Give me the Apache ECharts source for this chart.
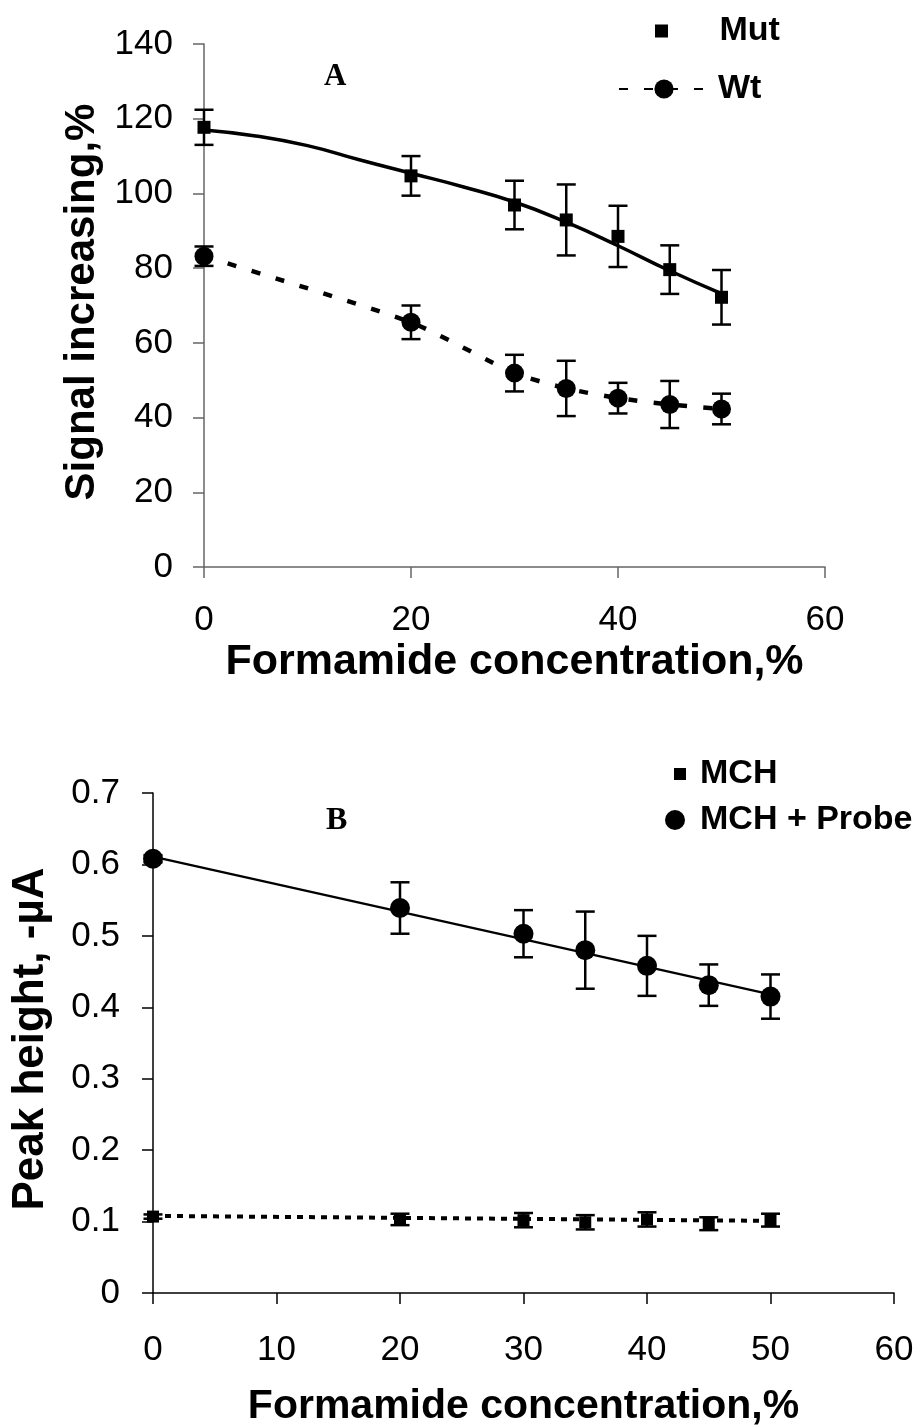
<!DOCTYPE html>
<html>
<head>
<meta charset="utf-8">
<script src="https://cdn.jsdelivr.net/npm/echarts@6/dist/echarts.min.js"></script>
<style>
  html, body { margin: 0; padding: 0; background: #fff; }
  #main { width: 921px; height: 1428px; }
</style>
</head>
<body>
<div id="main"></div>
<script>
// panel A: signal increasing vs formamide
var concA = [0, 20, 30, 35, 40, 45, 50];
var mutVals = [117.7, 104.7, 96.9, 92.9, 88.5, 79.6, 72.2];
var mutErr = [4.7, 5.3, 6.5, 9.5, 8.2, 6.5, 7.3];
var wtVals = [83.2, 65.5, 51.9, 47.8, 45.2, 43.5, 42.3];
var wtErr = [2.6, 4.5, 4.9, 7.4, 4.1, 6.3, 4.1];
// Mut trend curve
var trendX = [0, 5, 10, 15, 20, 25, 30, 35, 40, 45, 50];
var mutTrend = [117.0, 115.4, 112.8, 109.0, 105.4, 101.8, 97.7, 92.3, 86.0, 79.3, 73.2];

// panel B: peak height vs formamide
var concB = [0, 20, 30, 35, 40, 45, 50];
var probeVals = [0.608, 0.539, 0.503, 0.480, 0.458, 0.431, 0.415];
var probeErr = [0.005, 0.036, 0.033, 0.054, 0.042, 0.029, 0.031];
var mchVals = [0.107, 0.103, 0.102, 0.099, 0.103, 0.097, 0.102];
var mchErr = [0.003, 0.008, 0.010, 0.010, 0.010, 0.009, 0.009];
var trendBX = [0, 50];
var probeTrend = [0.611, 0.418];
var mchTrend = [0.108, 0.101];

var ticksA_y = [0, 140, 20];
var ticksA_x = [0, 60, 20];
var ticksB_y = [0, 0.7, 0.1];
var ticksB_x = [0, 60, 10];

var FONT = 'Liberation Sans, Arial, sans-serif';

function pairs(xs, ys) {
    return xs.map(function (x, i) { return [x, ys[i]]; });
}
function bars(xs, ys, es) {
    return xs.map(function (x, i) { return [x, ys[i] - es[i], ys[i] + es[i]]; });
}
function errRender(params, api) {
    var x = api.value(0);
    var p1 = api.coord([x, api.value(1)]);
    var p2 = api.coord([x, api.value(2)]);
    var w = 9.5;
    var st = { stroke: '#000', lineWidth: 2.5 };
    return {
        type: 'group',
        children: [
            { type: 'line', shape: { x1: p1[0], y1: p1[1], x2: p2[0], y2: p2[1] }, style: st },
            { type: 'line', shape: { x1: p1[0] - w, y1: p1[1], x2: p1[0] + w, y2: p1[1] }, style: st },
            { type: 'line', shape: { x1: p2[0] - w, y1: p2[1], x2: p2[0] + w, y2: p2[1] }, style: st }
        ]
    };
}
function valAxis(grid, t, color, extra) {
    var ax = {
        type: 'value',
        gridIndex: grid,
        min: t[0],
        max: t[1],
        interval: t[2],
        splitLine: { show: false },
        axisLine: { show: true, lineStyle: { color: color, width: 1.5 } },
        axisTick: { show: true, inside: false, length: 11, lineStyle: { color: color, width: 1.5 } },
        nameLocation: 'middle'
    };
    for (var k in extra) ax[k] = extra[k];
    return ax;
}
function tickLabel(margin) {
    return { color: '#000', fontSize: 35, fontFamily: FONT, margin: margin };
}
function nameStyle(size, pad) {
    return { color: '#000', fontSize: size, fontWeight: 'bold', fontFamily: FONT, padding: pad || 0 };
}

var dom = document.getElementById('main');
var myChart = echarts.init(dom);
var legendText = { color: '#000', fontSize: 34, fontWeight: 'bold', fontFamily: FONT, lineHeight: 36 };

var option = {
    backgroundColor: '#fff',
    animation: false,
    grid: [
        { left: 204, right: 96, top: 44, bottom: 861 },
        { left: 153, right: 27, top: 793, bottom: 135 }
    ],
    xAxis: [
        valAxis(0, ticksA_x, '#666', { name: 'Formamide concentration,%', nameGap: 74, axisLabel: tickLabel(36), nameTextStyle: nameStyle(43) }),
        valAxis(1, ticksB_x, '#000', { name: 'Formamide concentration,%', nameGap: 93, axisLabel: tickLabel(40), nameTextStyle: nameStyle(41) })
    ],
    yAxis: [
        valAxis(0, ticksA_y, '#666', { name: 'Signal increasing,%', nameGap: 79, axisLabel: tickLabel(31), nameTextStyle: nameStyle(42, [0, 0, 0, 7]) }),
        valAxis(1, ticksB_y, '#000', { name: 'Peak height, -µA', nameGap: 100, axisLabel: tickLabel(33), nameTextStyle: nameStyle(44, [0, 0, 0, 8]) })
    ],
    legend: [
        { data: [{ name: 'Mut', icon: 'path://M0,0L10,0L10,10L0,10Z' }], left: 655, top: 13, padding: 0, itemWidth: 106, itemHeight: 13, selectedMode: false, textStyle: legendText },
        { data: ['Wt'], left: 618, top: 71, padding: 0, itemWidth: 90, itemHeight: 24, selectedMode: false,
          textStyle: { color: '#000', fontSize: 34, fontWeight: 'bold', fontFamily: FONT, lineHeight: 36, padding: [0, 0, 0, 4] } },
        { data: [{ name: 'MCH', icon: 'path://M0,0L10,0L10,10L0,10Z' }], left: 674, top: 756, padding: 0, itemWidth: 30, itemHeight: 12, selectedMode: false, textStyle: legendText },
        { data: [{ name: 'MCH + Probe', icon: 'circle' }], left: 665, top: 802, padding: 0, itemWidth: 40, itemHeight: 20, selectedMode: false, textStyle: legendText }
    ],
    graphic: [
        { type: 'text', left: 324, top: 61, style: { text: 'A', fill: '#000', font: 'bold 31px "Liberation Serif", "Times New Roman", serif' } },
        { type: 'text', left: 326, top: 805, style: { text: 'B', fill: '#000', font: 'bold 32px "Liberation Serif", "Times New Roman", serif' } }
    ],
    series: [
        {
            name: 'Mut trend', type: 'line', xAxisIndex: 0, yAxisIndex: 0,
            data: pairs(trendX, mutTrend), smooth: true, symbol: 'none', silent: true,
            lineStyle: { color: '#000', width: 3.5 }, z: 2
        },
        {
            name: 'Wt', type: 'line', xAxisIndex: 0, yAxisIndex: 0,
            data: pairs(concA, wtVals), smooth: 0.2, symbol: 'circle', symbolSize: 19,
            itemStyle: { color: '#000' },
            lineStyle: { color: '#000', width: 4.5, type: [9, 16] }, z: 4
        },
        {
            type: 'custom', xAxisIndex: 0, yAxisIndex: 0, renderItem: errRender,
            encode: { x: 0, y: [1, 2] }, data: bars(concA, mutVals, mutErr), z: 3, silent: true
        },
        {
            type: 'custom', xAxisIndex: 0, yAxisIndex: 0, renderItem: errRender,
            encode: { x: 0, y: [1, 2] }, data: bars(concA, wtVals, wtErr), z: 3, silent: true
        },
        {
            name: 'Mut', type: 'scatter', xAxisIndex: 0, yAxisIndex: 0,
            data: pairs(concA, mutVals), symbol: 'rect', symbolSize: 13,
            itemStyle: { color: '#000', opacity: 1 }, z: 5
        },
        {
            name: 'MCH + Probe trend', type: 'line', xAxisIndex: 1, yAxisIndex: 1,
            data: pairs(trendBX, probeTrend), symbol: 'none', silent: true,
            lineStyle: { color: '#000', width: 2.2 }, z: 2
        },
        {
            name: 'MCH trend', type: 'line', xAxisIndex: 1, yAxisIndex: 1,
            data: pairs(trendBX, mchTrend), symbol: 'none', silent: true,
            lineStyle: { color: '#000', width: 4, type: [6, 6] }, z: 2
        },
        {
            type: 'custom', xAxisIndex: 1, yAxisIndex: 1, renderItem: errRender,
            encode: { x: 0, y: [1, 2] }, data: bars(concB, probeVals, probeErr), z: 3, silent: true
        },
        {
            type: 'custom', xAxisIndex: 1, yAxisIndex: 1, renderItem: errRender,
            encode: { x: 0, y: [1, 2] }, data: bars(concB, mchVals, mchErr), z: 3, silent: true
        },
        {
            name: 'MCH + Probe', type: 'scatter', xAxisIndex: 1, yAxisIndex: 1,
            data: pairs(concB, probeVals), symbol: 'circle', symbolSize: 20,
            itemStyle: { color: '#000', opacity: 1 }, z: 5
        },
        {
            name: 'MCH', type: 'scatter', xAxisIndex: 1, yAxisIndex: 1,
            data: pairs(concB, mchVals), symbol: 'rect', symbolSize: 12,
            itemStyle: { color: '#000', opacity: 1 }, z: 5
        }
    ]
};
if (option && typeof option === "object") {
    myChart.setOption(option, true);
}
</script>
</body>
</html>
